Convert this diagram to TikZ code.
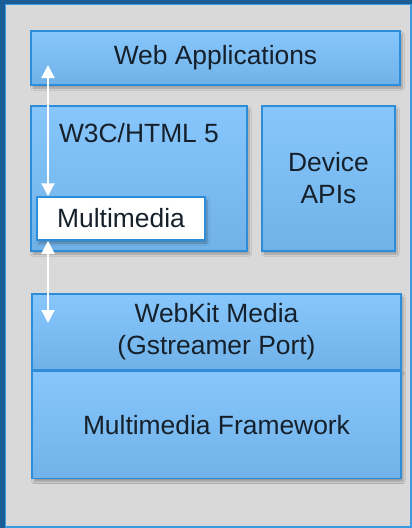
\documentclass[tikz,border=0pt]{standalone}
\usepackage{fontspec}
\setmainfont{Liberation Sans}
\usepackage{xcolor}
\usetikzlibrary{positioning,arrows.meta,shadows.blur}

\definecolor{framedark}{HTML}{1B5E97}
\definecolor{framelight}{HTML}{3A9BE0}
\definecolor{panelgray}{HTML}{D9D9D9}
\definecolor{boxtop}{HTML}{86C6FD}
\definecolor{boxbot}{HTML}{70B2E7}
\definecolor{boxline}{HTML}{2E8DD8}
\definecolor{txtdark}{HTML}{16202B}

\begin{document}
\begin{tikzpicture}[
x=1pt,y=-1pt,
blk/.style={
  draw=boxline,
  line width=1.5pt,
  top color=boxtop,
  bottom color=boxbot,
  inner sep=0pt,
  align=center,
  text=txtdark,
  font=\fontsize{26.4}{32}\selectfont,
  blur shadow={shadow xshift=2pt,shadow yshift=-3pt,shadow blur steps=6,shadow opacity=30}
  },
whitebox/.style={
  blk,
  top color=white,
  bottom color=white
  },
lbl/.style={
  inner sep=0pt,
  text=txtdark,
  font=\fontsize{26.4}{32}\selectfont
  },
flow/.style={
  draw=white,
  line width=2pt,
  {Triangle[width=13pt,length=13pt]}-{Triangle[width=13pt,length=13pt]}
  }
]
% frame and panel
\fill[framedark] (0,0) rectangle (412,528);
\filldraw[fill=panelgray,draw=framelight,line width=1.5pt] (5.5,4.5) rectangle (411,527);
\useasboundingbox (0,0) rectangle (412,528);

% upper layer
\node[blk,minimum width=369pt,minimum height=54pt] (webapps) at (215.5,58) {Web Applications};
\node[blk,minimum width=216pt,minimum height=145pt] (w3c) at (139,178.5) {};
\node[lbl,anchor=base] (w3ctext) at ([yshift=-37pt]w3c.north) {W3C/HTML 5};
\node[blk,minimum width=133pt,minimum height=145pt] (devapi) at (328.5,178.5) {Device\\APIs};
\node[whitebox,minimum width=168pt,minimum height=43pt] (mm) at (121,218.5) {Multimedia};

% lower layer
\node[blk,minimum width=369pt,minimum height=76pt] (webkit) at (216.5,332) {WebKit Media\\(Gstreamer Port)};
\node[blk,minimum width=369pt,minimum height=107pt,below=0pt of webkit] (mmf) {Multimedia Framework};

% links
\coordinate (up) at (48,65);
\coordinate (down) at (48,323);
\draw[flow] (up) -- (mm.north -| up);
\draw[flow] (mm.south -| up) -- (down);
\end{tikzpicture}
\end{document}
